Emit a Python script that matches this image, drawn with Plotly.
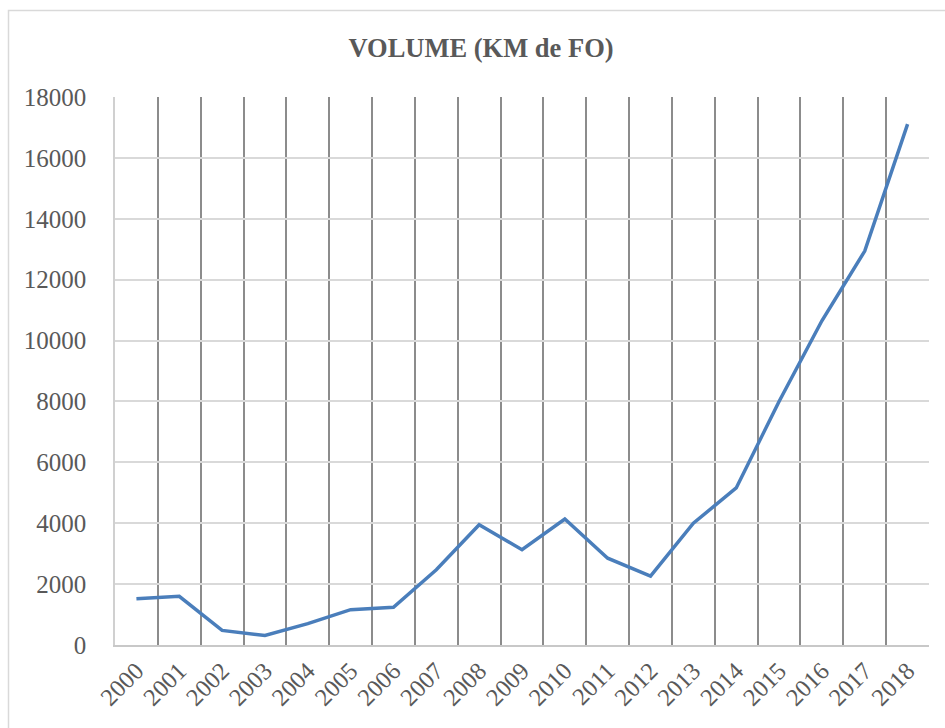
import plotly.graph_objects as go

years = [str(y) for y in range(2000, 2019)]
volume_km = [1520, 1600, 480, 310, 700, 1160, 1240, 2470, 3950, 3130,
             4140, 2850, 2260, 4000, 5160, 8000, 10650, 12940, 17110]
y_ticks = list(range(0, 18001, 2000))
title_text = "VOLUME (KM de FO)"

W, H = 945, 728
L, R, T, B = 115, 16, 97, 83
pw, ph = W - L - R, H - T - B

def px_x(p):
    return (p - L) / pw

def px_y(p):
    return (H - B - p) / ph

fig = go.Figure()
fig.add_trace(go.Scatter(
    x=years, y=volume_km, mode="lines",
    line=dict(color="#4a7ebb", width=3.5),
    showlegend=False, hoverinfo="x+y",
))

font_family = "Liberation Serif, Cambria, serif"
fig.update_layout(
    width=W, height=H,
    margin=dict(l=L, r=R, t=T, b=B, pad=0, autoexpand=False),
    paper_bgcolor="white", plot_bgcolor="white",
    title=dict(text="<b>" + title_text + "</b>", x=481 / W, xanchor="center",
               y=1 - 48 / H, yanchor="middle",
               font=dict(family=font_family, size=26.5, color="#595959")),
    xaxis=dict(
        type="category", range=[-0.5, len(years) - 0.5], automargin=False,
        tickson="boundaries", showgrid=True, gridcolor="#8c8c8c", gridwidth=1.5,
        showline=True, linecolor="#c8c8c8", linewidth=1.5,
        tickangle=-45, ticks="", ticklabelstandoff=0,
        tickfont=dict(family=font_family, size=24.5, color="#595959"),
        fixedrange=True,
    ),
    yaxis=dict(
        range=[0, 18000], tickmode="array", tickvals=y_ticks, automargin=False,
        ticktext=[str(v) for v in y_ticks],
        showgrid=True, gridcolor="#d9d9d9", gridwidth=1.5,
        showline=True, linecolor="#d0d0d0", linewidth=1.5,
        zeroline=False, ticks="", ticklabelstandoff=22,
        tickfont=dict(family=font_family, size=25, color="#595959"),
        fixedrange=True,
    ),
)

# outer chart border (cropped on right and bottom in the reference)
fig.add_shape(type="rect", xref="paper", yref="paper",
              x0=px_x(8.5), x1=px_x(960), y0=px_y(740), y1=px_y(10.5),
              line=dict(color="#d9d9d9", width=1.5), layer="below")

fig.write_html(
    "out.html",
    config={"displayModeBar": False},
    post_script="document.body.style.margin='0';document.body.style.overflow='hidden';",
)
